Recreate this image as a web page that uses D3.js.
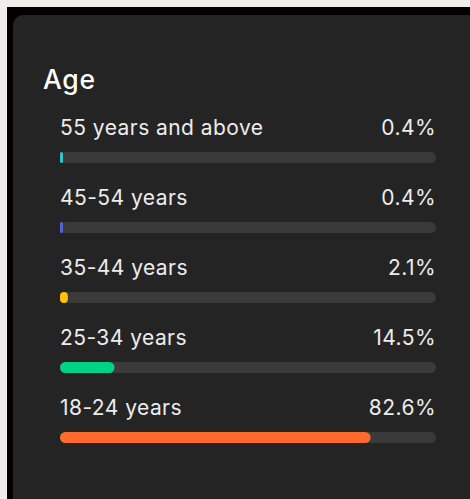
<!DOCTYPE html>
<html><head><meta charset="utf-8">
<script src="https://cdn.jsdelivr.net/npm/d3@7"></script>
<style>html,body{margin:0;padding:0;background:#f1edeb;overflow:hidden;}</style>
</head><body>
<svg id="c" width="470" height="499"></svg>
<script>
const title = "Age";
const categories = ["55 years and above","45-54 years","35-44 years","25-34 years","18-24 years"];
const values = [0.4, 0.4, 2.1, 14.5, 82.6];
const colors = ["#2fc6c8","#5563d6","#ffc107","#00d386","#ff6b2c"];

const svg = d3.select("#c");
svg.append("rect").attr("x",7).attr("y",7).attr("width",470).attr("height",499).attr("fill","#000");
svg.append("rect").attr("x",13).attr("y",15).attr("width",480).attr("height",520).attr("rx",10).attr("fill","#242424");

svg.append("text").attr("x",43).attr("y",89).attr("fill","#ffffff")
  .attr("font-family","Inter, 'Open Sans', sans-serif").attr("font-size",26.5)
  .attr("letter-spacing",0.7).attr("font-weight",500).text(title);

const x = d3.scaleLinear().domain([0,100]).range([60,436]);
const y = d3.scaleBand().domain(categories).range([100,450]).paddingInner(0).paddingOuter(0);
const barH = 11;

const g = svg.selectAll("g.row").data(categories).join("g").attr("class","row")
  .attr("transform", d => `translate(0,${y(d)})`);

g.append("text").attr("x",60).attr("y",35).attr("fill","#ececec")
  .attr("font-family","Inter, 'Open Sans', sans-serif").attr("font-size",21)
  .attr("letter-spacing",0.45).text(d=>d);
g.append("text").attr("x",436).attr("y",35).attr("text-anchor","end").attr("fill","#ececec")
  .attr("font-family","Inter, 'Open Sans', sans-serif").attr("font-size",21)
  .attr("letter-spacing",0.45)
  .text((d,i)=>values[i].toFixed(1)+"%");
g.append("rect").attr("x",x(0)).attr("y",52).attr("width",x(100)-x(0)).attr("height",barH)
  .attr("rx",barH/2).attr("fill","#3a3a3a");
g.append("rect").attr("x",x(0)).attr("y",52)
  .attr("width",(d,i)=>Math.max(x(values[i])-x(0),3)).attr("height",barH)
  .attr("rx",(d,i)=>Math.min(barH/2,Math.max(x(values[i])-x(0),3)/2)).attr("fill",(d,i)=>colors[i]);
</script>
</body></html>
